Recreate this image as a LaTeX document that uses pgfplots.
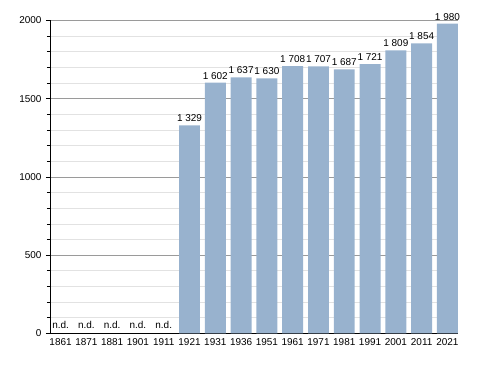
\documentclass[border=0pt]{standalone}
\usepackage{pgfplots}
\pgfplotsset{compat=1.18}
\usepackage{fontspec}
\setmainfont{Liberation Sans}
\definecolor{barblue}{HTML}{98B2CE}
\definecolor{majgrid}{HTML}{9A9A9A}
\definecolor{mingrid}{HTML}{E2E2E2}
\begin{document}
\begin{tikzpicture}
\path[use as bounding box] (-50bp,-39.7bp) rectangle (438bp,333.3bp);
\begin{axis}[
  at={(0,0)}, anchor=south west,
  scale only axis,
  width=408bp, height=312.8bp,
  xmin=-0.41, xmax=15.41,
  ymin=0, ymax=2000,
  axis lines*=left,
  axis line style={black, line width=0.8pt, -},
  xtick={0,...,15},
  xticklabels={1861,1871,1881,1901,1911,1921,1931,1936,1951,1961,1971,1981,1991,2001,2011,2021},
  x tick style={draw=none},
  ytick={0,500,1000,1500,2000},
  minor ytick={100,200,300,400,600,700,800,900,1100,1200,1300,1400,1600,1700,1800,1900},
  y tick style={black, line width=0.6pt},
  tick align=outside,
  major tick length=4bp, minor tick length=3bp,
  ymajorgrids, yminorgrids,
  major grid style={majgrid, line width=0.6pt},
  minor grid style={mingrid, line width=0.6pt},
  /pgf/number format/assume math mode=true,
  /pgf/number format/1000 sep={},
  tick label style={font=\fontsize{10}{12}\selectfont},
  xticklabel style={yshift=2bp},
  yticklabel style={xshift=-1bp},
  every node near coord/.append style={font=\fontsize{10}{12}\selectfont, anchor=south, yshift=0bp},
  point meta=explicit symbolic,
  nodes near coords,
]
\addplot[ybar, bar width=0.81, fill=barblue, draw=none] coordinates {
  (5,1329) [1 329]
  (6,1602) [1 602]
  (7,1637) [1 637]
  (8,1630) [1 630]
  (9,1708) [1 708]
  (10,1707) [1 707]
  (11,1687) [1 687]
  (12,1721) [1 721]
  (13,1809) [1 809]
  (14,1854) [1 854]
  (15,1980) [1 980]
};
\addplot[ybar, bar width=0.81, draw=none, fill=none, every node near coord/.append style={yshift=1bp}] coordinates {
  (0,0) [n.d.]
  (1,0) [n.d.]
  (2,0) [n.d.]
  (3,0) [n.d.]
  (4,0) [n.d.]
};
\end{axis}
\end{tikzpicture}
\end{document}
